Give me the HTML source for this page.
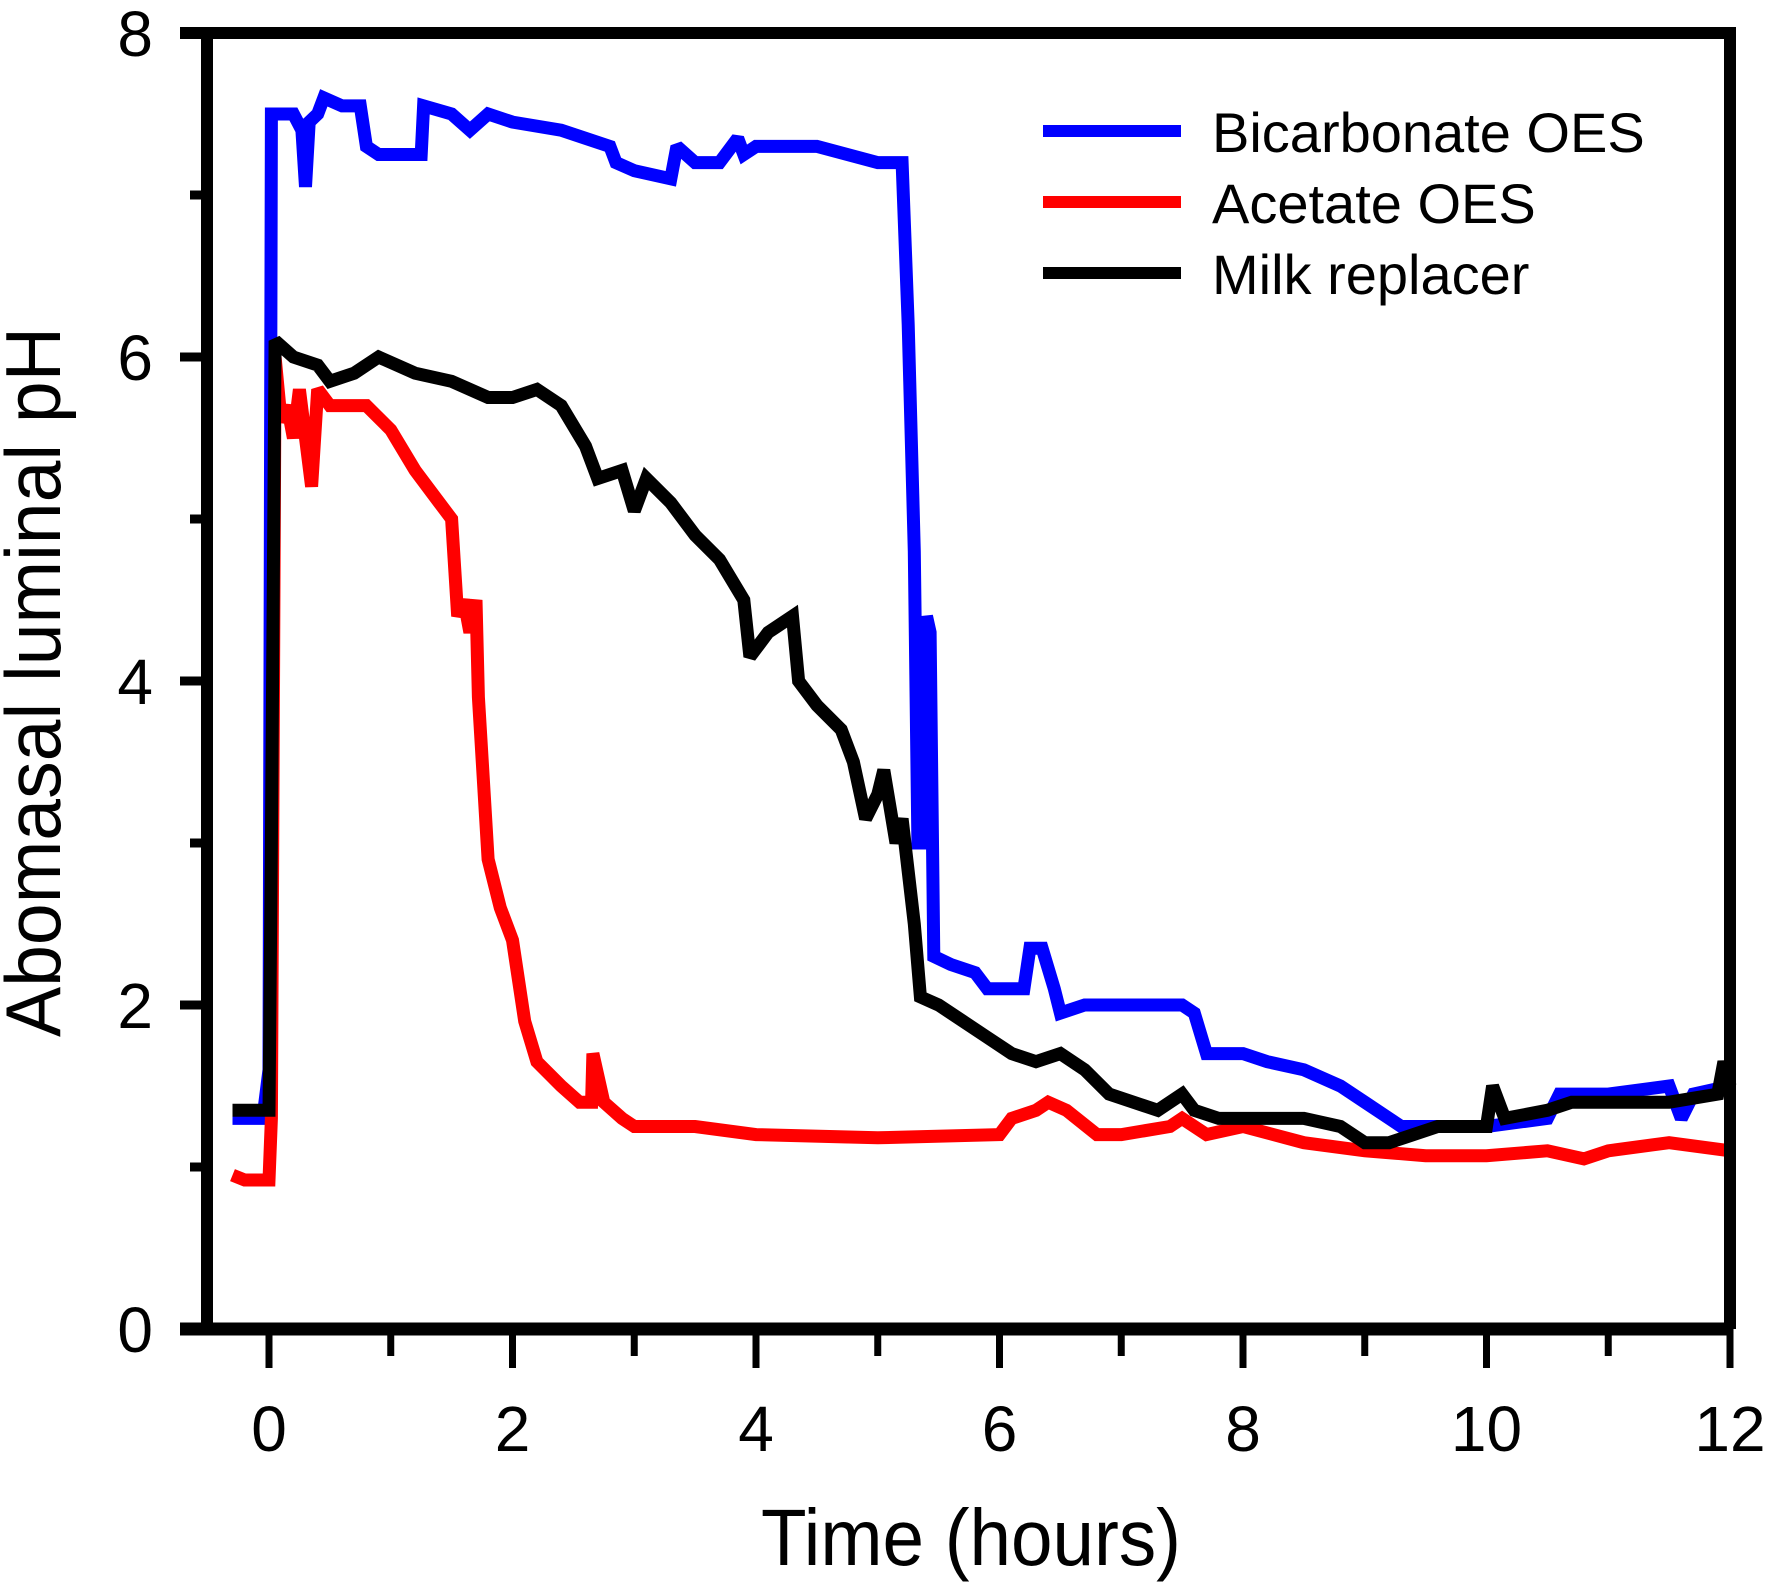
<!DOCTYPE html>
<html><head><meta charset="utf-8"><style>
html,body{margin:0;padding:0;background:#fff;}
svg{display:block;font-family:"Liberation Sans",Arial,sans-serif;}
</style></head><body>
<svg id="chart" width="1772" height="1584" viewBox="0 0 1772 1584" xmlns="http://www.w3.org/2000/svg">
<g id="plot"></g>
<g id="axes"></g>
<text x="971" y="1565" font-size="80" text-anchor="middle" textLength="420" lengthAdjust="spacingAndGlyphs">Time (hours)</text>
<text transform="translate(60,682) rotate(-90)" font-size="78" text-anchor="middle" textLength="710" lengthAdjust="spacingAndGlyphs">Abomasal luminal pH</text>
<g id="legend"></g>
</svg>
<script>
const xTicks = [0,2,4,6,8,10,12];
const yTicks = [0,2,4,6,8];
const seriesNames = ["Bicarbonate OES","Acetate OES","Milk replacer"];
const seriesColors = ["#0000ff","#ff0000","#000000"];
const bicarbT = [-0.3,-0.05,0,0.02,0.2,0.27,0.3,0.33,0.4,0.45,0.6,0.75,0.8,0.9,1.1,1.25,1.27,1.5,1.65,1.8,2.0,2.4,2.6,2.8,2.85,3.0,3.3,3.35,3.5,3.7,3.85,3.9,4.0,4.5,5.0,5.2,5.25,5.3,5.33,5.38,5.4,5.43,5.46,5.6,5.8,5.9,6.1,6.2,6.25,6.35,6.45,6.5,6.7,7.5,7.6,7.7,8.0,8.2,8.5,8.8,9.0,9.2,9.3,9.5,10.0,10.5,10.6,11.0,11.5,11.6,11.7,12.0];
const bicarbPH = [1.3,1.3,1.6,7.5,7.5,7.4,7.05,7.45,7.5,7.6,7.55,7.55,7.3,7.25,7.25,7.25,7.55,7.5,7.4,7.5,7.45,7.4,7.35,7.3,7.2,7.15,7.1,7.3,7.2,7.2,7.35,7.25,7.3,7.3,7.2,7.2,6.2,4.8,3.0,3.0,4.4,4.3,2.3,2.25,2.2,2.1,2.1,2.1,2.35,2.35,2.1,1.95,2.0,2.0,1.95,1.7,1.7,1.65,1.6,1.5,1.4,1.3,1.25,1.25,1.25,1.3,1.45,1.45,1.5,1.3,1.45,1.5];
const acetT = [-0.3,-0.2,0,0.02,0.05,0.1,0.15,0.2,0.25,0.35,0.4,0.5,0.8,1.0,1.2,1.4,1.5,1.55,1.6,1.65,1.7,1.72,1.8,1.9,2.0,2.1,2.2,2.4,2.55,2.65,2.66,2.75,2.9,3.0,3.5,4.0,5.0,6.0,6.1,6.3,6.4,6.55,6.8,7.0,7.4,7.5,7.7,8.0,8.5,9.0,9.5,10.0,10.5,10.8,11.0,11.5,11.8,12.0];
const acetPH = [0.95,0.92,0.92,1.3,6.0,5.6,5.7,5.5,5.8,5.2,5.8,5.7,5.7,5.55,5.3,5.1,5.0,4.4,4.5,4.3,4.5,3.9,2.9,2.6,2.4,1.9,1.65,1.5,1.4,1.4,1.7,1.4,1.3,1.25,1.25,1.2,1.18,1.2,1.3,1.35,1.4,1.35,1.2,1.2,1.25,1.3,1.2,1.25,1.15,1.1,1.07,1.07,1.1,1.05,1.1,1.15,1.12,1.1];
const milkT = [-0.3,0,0.02,0.05,0.2,0.4,0.5,0.7,0.9,1.2,1.5,1.8,2.0,2.2,2.4,2.6,2.7,2.9,3.0,3.1,3.3,3.5,3.7,3.9,3.95,4.1,4.3,4.35,4.5,4.7,4.8,4.9,5.0,5.05,5.15,5.2,5.3,5.35,5.5,5.7,5.9,6.1,6.3,6.5,6.7,6.9,7.1,7.3,7.5,7.6,7.8,8.0,8.5,8.8,9.0,9.2,9.4,9.6,10.0,10.05,10.15,10.5,10.7,11.0,11.5,11.9,11.95,12.0];
const milkPH = [1.35,1.35,3.0,6.1,6.0,5.95,5.85,5.9,6.0,5.9,5.85,5.75,5.75,5.8,5.7,5.45,5.25,5.3,5.05,5.25,5.1,4.9,4.75,4.5,4.15,4.3,4.4,4.0,3.85,3.7,3.5,3.15,3.3,3.45,3.0,3.15,2.5,2.05,2.0,1.9,1.8,1.7,1.65,1.7,1.6,1.45,1.4,1.35,1.45,1.35,1.3,1.3,1.3,1.25,1.15,1.15,1.2,1.25,1.25,1.5,1.3,1.35,1.4,1.4,1.4,1.45,1.65,1.5];

const NS = "http://www.w3.org/2000/svg";
const X0 = 269, XPER = 121.75, Y0 = 1329, YPER = 162;
function xs(t){ return X0 + t*XPER; }
function ys(v){ return Y0 - v*YPER; }
function mk(tag, attrs, parent){ const e=document.createElementNS(NS,tag); for(const k in attrs) e.setAttribute(k,attrs[k]); parent.appendChild(e); return e; }

const plot = document.getElementById('plot');
const allT = [bicarbT, acetT, milkT], allV = [bicarbPH, acetPH, milkPH];
const seriesKeys = ['bicarbonate','acetate','milk-replacer'];
for (let s=0;s<3;s++){
  const pts = allT[s].map((t,i)=>xs(t).toFixed(1)+','+ys(allV[s][i]).toFixed(1)).join(' ');
  const pl = mk('polyline',{points:pts,fill:'none',stroke:seriesColors[s],'stroke-width':13,'stroke-linejoin':'miter','stroke-miterlimit':2},plot);
  
  
}

const axes = document.getElementById('axes');
const frame = mk('path',{d:'M180,33 H1730 V1329 M207,33 V1329',fill:'none',stroke:'#000','stroke-width':12},axes);


const xax = mk('line',{x1:180,y1:1329,x2:1730,y2:1329,stroke:'#000','stroke-width':13},axes);


for (let t=0;t<=12;t++){
  const major = t%2===0;
  const tk = mk('line',{x1:xs(t),y1:1329,x2:xs(t),y2:major?1368:1356,stroke:'#000','stroke-width':7},axes);
  
  
}
xTicks.forEach(t=>{
  const lb = mk('text',{x:xs(t),y:1451,'font-size':64,'text-anchor':'middle'},axes);
  lb.textContent = String(t);
  
  
});
for (let v=0;v<=8;v++){
  const major = v%2===0;
  const tk = mk('line',{x1:major?180:190,y1:ys(v),x2:207,y2:ys(v),stroke:'#000','stroke-width':9},axes);
  
  
}
yTicks.forEach(v=>{
  const lb = mk('text',{x:153,y:ys(v)+23,'font-size':64,'text-anchor':'end'},axes);
  lb.textContent = String(v);
  
  
});

const legend = document.getElementById('legend');
const legY = [131,202,273];
for (let s=0;s<3;s++){
  const ln = mk('line',{x1:1043,y1:legY[s],x2:1181,y2:legY[s],stroke:seriesColors[s],'stroke-width':12},legend);
  
  
  const tx = mk('text',{x:1212,y:legY[s]+21,'font-size':56},legend);
  tx.textContent = seriesNames[s];
  
  
}
</script>
</body></html>
